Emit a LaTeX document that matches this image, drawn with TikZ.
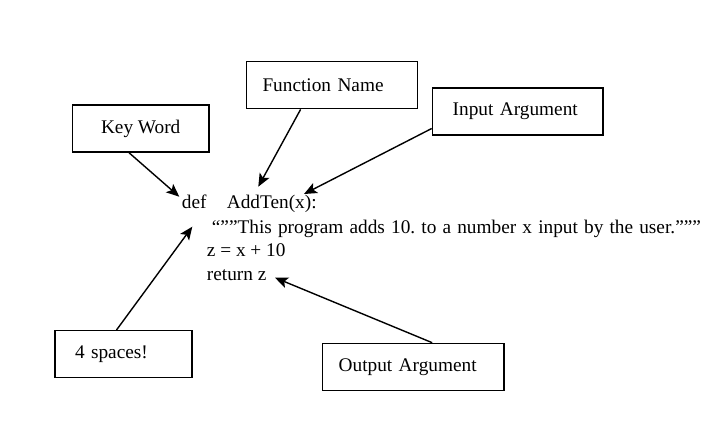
\documentclass[tikz,border=0pt]{standalone}
\usepackage{fontspec}
\setmainfont{Liberation Serif}
\usetikzlibrary{arrows.meta}
\frenchspacing
\begin{document}
\begin{tikzpicture}[x=1pt,y=-1pt,
  lbl/.style={draw, line width=1.4pt, minimum height=47pt, anchor=north west, align=left, font=\fontsize{19.3}{23}\selectfont},
  code/.style={anchor=base west, inner sep=0pt, font=\fontsize{19.3}{23}\selectfont},
  ptr/.style={line width=1.4pt, -{Stealth[length=13pt,width=11pt,inset=3pt]}}]
\useasboundingbox (0,0) rectangle (728,434);
% the code
\node[code] (kwdef) at (181.7,208) {def};
\node[code] (fnadd) at (226.7,208) {AddTen(x):};
\node[code] (doc) at (211.7,233.3) {\makebox[489pt][s]{“””This program adds 10. to a number x input by the user.”””}};
\node[code] (body) at (206.7,256.7) {z = x + 10};
\node[code] (ret) at (206.7,280) {return z};
% the labels
\node[lbl, minimum width=136.6pt] (keyw) at (71.7,104.3) {Key Word};
\node[lbl, text width=139pt, inner xsep=15.8pt] (fname) at (246,61) {Function Name};
\node[lbl, text width=130pt, inner xsep=20.3pt] (inarg) at (431.7,87.3) {Input Argument};
\node[lbl, text width=97pt, inner xsep=20pt] (spaces) at (54.3,330) {4 spaces!};
\node[lbl, text width=149pt, inner xsep=16.3pt] (outarg) at (321.7,342.7) {Output Argument};
% arrow tips
\coordinate (kwtip) at (179.3,196.7);
\coordinate (fntip) at (258.3,186.7);
\coordinate (intip) at (304,194);
\coordinate (sptip) at (192.3,226.7);
\coordinate (outtip) at (275,277.7);
\draw[ptr] ([xshift=-11.7pt]keyw.south) -- (kwtip);
\draw[ptr] ([xshift=-31.4pt]fname.south) -- (fntip);
\draw[ptr] ([yshift=-17pt]inarg.west) -- (intip);
\draw[ptr] ([xshift=-7pt]spaces.north) -- (sptip);
\draw[ptr] ([xshift=19pt]outarg.north) -- (outtip);
\end{tikzpicture}
\end{document}
